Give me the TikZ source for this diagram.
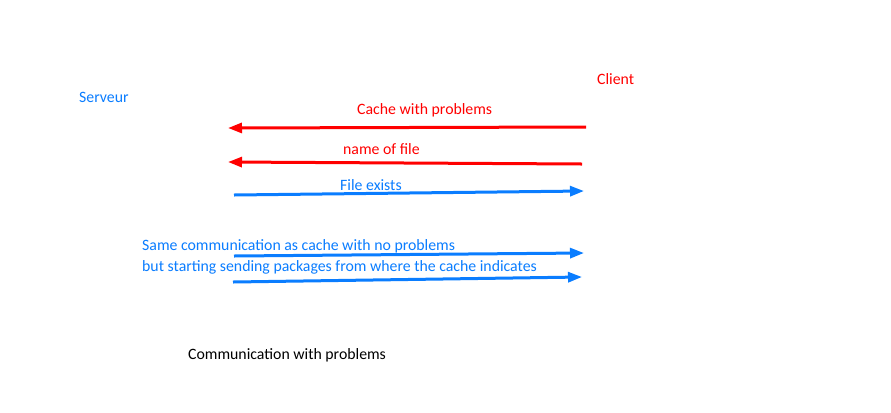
\documentclass[tikz,border=0pt]{standalone}
\usepackage{fontspec}
\setmainfont{Carlito}
\usetikzlibrary{arrows.meta}
\definecolor{myred}{RGB}{255,0,0}
\definecolor{myblue}{RGB}{10,125,255}
\tikzset{
  lbl/.style={inner sep=0pt, anchor=west, font=\fontsize{15.8bp}{18bp}\selectfont},
  msg/.style={line width=3bp, -{Triangle[length=14bp,width=10bp]}},
}
\begin{document}
\begin{tikzpicture}[x=1bp,y=-1bp]
\useasboundingbox[fill=white] (0,0) rectangle (891,412);
\node[lbl, text=myred] (client) at (597,79) {Client};
\node[lbl, text=myblue] (serveur) at (79,97) {Serveur};
\node[lbl, text=myred] (l1) at (357,110) {Cache with problems};
\node[lbl, text=myred] (l2) at (343,149) {name of file};
\node[lbl, text=myblue] (l3) at (340,185) {File exists};
\node[lbl, text=myblue] (l4) at (142,246) {Same communication as cache with no problems};
\node[lbl, text=myblue] (l5) at (142,267) {but starting sending packages from where the cache indicates};
\node[lbl, text=black] (title) at (188,355) {Communication with problems};
\coordinate (a1s) at (586,127); \coordinate (a1e) at (228,128);
\coordinate (a2s) at (582,164); \coordinate (a2e) at (228,162);
\coordinate (a3s) at (234,195); \coordinate (a3e) at (584,191);
\coordinate (a4s) at (234,256); \coordinate (a4e) at (584,253);
\coordinate (a5s) at (233,282); \coordinate (a5e) at (582,277);
\draw[msg, myred] (a1s) -- (a1e);
\draw[msg, myred] (a2s) -- (a2e);
\draw[msg, myblue] (a3s) -- (a3e);
\draw[msg, myblue] (a4s) -- (a4e);
\draw[msg, myblue] (a5s) -- (a5e);
\end{tikzpicture}
\end{document}
